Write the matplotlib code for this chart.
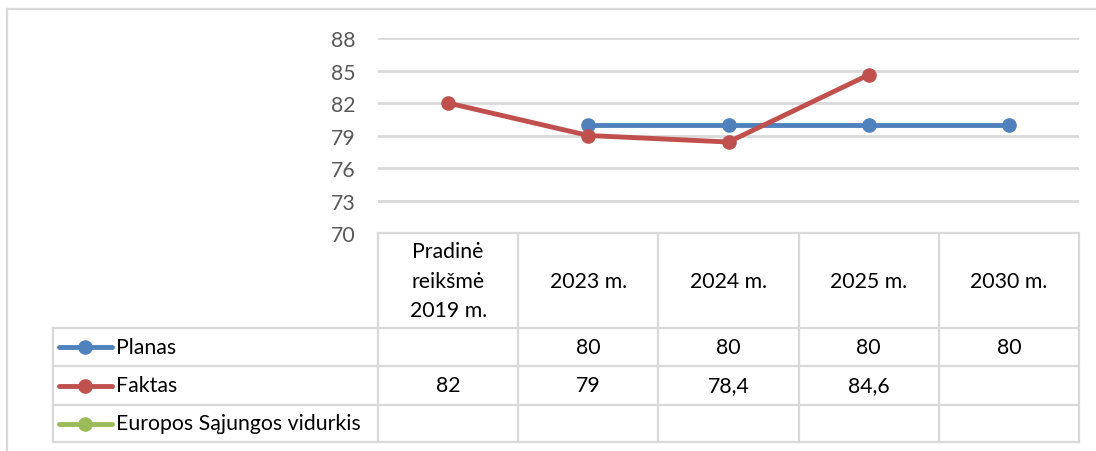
import matplotlib
matplotlib.use("Agg")
import matplotlib.pyplot as plt
import numpy as np
from matplotlib.lines import Line2D
from matplotlib.transforms import blended_transform_factory

categories = ["Pradinė\nreikšmė\n2019 m.", "2023 m.", "2024 m.", "2025 m.", "2030 m."]
series_names = ["Planas", "Faktas", "Europos Sąjungos vidurkis"]
planas = [None, 80, 80, 80, 80]
faktas = [82, 79, 78.4, 84.6, None]
es_vidurkis = [None, None, None, None, None]
colors = ["#4F81BD", "#C0504D", "#9BBB59"]
yticks = [70, 73, 76, 79, 82, 85, 88]

W, H = 1096, 452
DPI = 100
FONT = "Lato"
FS = 15.3
GRID = "#D9D9D9"

fig = plt.figure(figsize=(W / DPI, H / DPI), dpi=DPI)

def fx(x):
    return x / W

def fy(y):
    return 1 - y / H

# plot area: x 378..1079, y 39 (88) .. 234 (70)
L, R, T, B = 378, 1079, 39, 234
ax = fig.add_axes([fx(L), fy(B), fx(R) - fx(L), fy(T) - fy(B)])
ax.set_xlim(-0.5, len(categories) - 0.5)
ax.set_ylim(yticks[0], yticks[-1])
for s in ax.spines.values():
    s.set_visible(False)
ax.set_xticks([])
ax.set_yticks(yticks)
ax.tick_params(axis="y", length=0, pad=16, labelsize=FS, labelcolor="#595959")
for lab in ax.get_yticklabels():
    lab.set_fontfamily(FONT)
ax.yaxis.grid(True, color=GRID, linewidth=2)
ax.set_axisbelow(True)

x = np.arange(len(categories))
all_series = [planas, faktas, es_vidurkis]
for vals, c in zip(all_series, colors):
    y = np.array([np.nan if v is None else v for v in vals], dtype=float)
    ax.plot(x, y, color=c, linewidth=3.5, marker="o", markersize=9.5,
            markerfacecolor=c, markeredgecolor=c, solid_capstyle="round",
            clip_on=False, zorder=3)

# outer chart border
fig.add_artist(Line2D([fx(7), fx(7)], [fy(10), fy(H + 5)], color=GRID, linewidth=1.6,
                      transform=fig.transFigure))
fig.add_artist(Line2D([fx(7), fx(W + 5)], [fy(10), fy(10)], color=GRID, linewidth=1.6,
                      transform=fig.transFigure))

# data table
bt = blended_transform_factory(ax.transData, fig.transFigure)
top, hdr_bot = 234, 329
row_bounds = [329, 367, 406, 443]
leg_left = 53
n = len(categories)

def hline(x0, x1, y, trans=fig.transFigure):
    fig.add_artist(Line2D([x0, x1], [fy(y), fy(y)], color=GRID, linewidth=1.6,
                          transform=trans))

def vline(xv, y0, y1, trans=fig.transFigure):
    fig.add_artist(Line2D([xv, xv], [fy(y0), fy(y1)], color=GRID, linewidth=1.6,
                          transform=trans))

hline(-0.5, n - 0.5, top, bt)
for yb in row_bounds:
    fig.add_artist(Line2D([fx(leg_left), fx(R)], [fy(yb), fy(yb)], color=GRID,
                          linewidth=1.6, transform=fig.transFigure))
for i in range(n + 1):
    vline(i - 0.5, top, row_bounds[-1], bt)
vline(fx(leg_left), row_bounds[0], row_bounds[-1])

# header text
for i, cat in enumerate(categories):
    fig.text(i, fy((top + hdr_bot) / 2), cat, transform=bt, ha="center", va="center",
             fontsize=FS, fontfamily=FONT, color="black", linespacing=1.6)

# rows
def fmt(v):
    if v is None:
        return ""
    s = ("%g" % v).replace(".", ",")
    return s

for r, (name, vals, c) in enumerate(zip(series_names, all_series, colors)):
    yc = (row_bounds[r] + row_bounds[r + 1]) / 2
    fig.add_artist(Line2D([fx(59), fx(112)], [fy(yc), fy(yc)], color=c, linewidth=3.5,
                          solid_capstyle="round", transform=fig.transFigure))
    fig.add_artist(Line2D([fx(85)], [fy(yc)], color=c, marker="o", markersize=9.5,
                          linestyle="none", transform=fig.transFigure))
    fig.text(fx(116), fy(yc), name, ha="left", va="center", fontsize=FS,
             fontfamily=FONT, color="black")
    for i, v in enumerate(vals):
        t = fmt(v)
        if t:
            fig.text(i, fy(yc), t, transform=bt, ha="center", va="center",
                     fontsize=FS, fontfamily=FONT, color="black")

fig.savefig("out.png", dpi=DPI)
